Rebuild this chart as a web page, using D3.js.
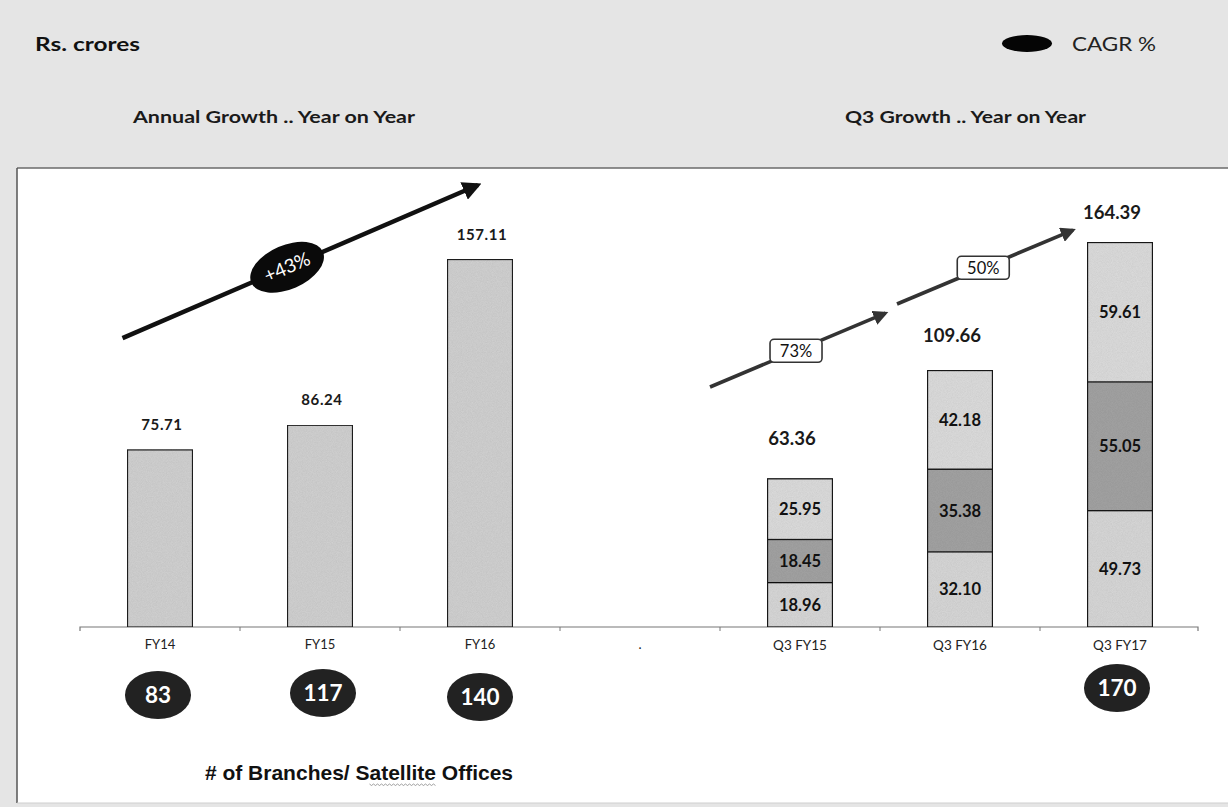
<!DOCTYPE html>
<html>
<head>
<meta charset="utf-8">
<script src="https://cdn.jsdelivr.net/npm/d3@7"></script>
<style>
  html, body { margin: 0; padding: 0; background: #e5e5e5; }
  svg { display: block; }
</style>
</head>
<body>
<svg id="chart" width="1228" height="807"></svg>
<script>
// ---------- DATA ----------
const categories = ["FY14", "FY15", "FY16", ".", "Q3 FY15", "Q3 FY16", "Q3 FY17"];
const annualCats = ["FY14", "FY15", "FY16"];
const annualValues = [75.71, 86.24, 157.11];
const quarterCats = ["Q3 FY15", "Q3 FY16", "Q3 FY17"];
const q3Bottom = [18.96, 32.10, 49.73];
const q3Middle = [18.45, 35.38, 55.05];
const q3Top = [25.95, 42.18, 59.61];
const q3Totals = [63.36, 109.66, 164.39];
const branchCats = ["FY14", "FY15", "FY16", "Q3 FY17"];
const branchCounts = [83, 117, 140, 170];
const annualCagr = "+43%";
const quarterGrowth = ["73%", "50%"];

// ---------- SETUP ----------
const svg = d3.select("#chart");
const W = 1228, H = 807;
const baseY = 627;

const x = d3.scaleBand().domain(categories).range([80, 1200]).paddingInner(0.594).paddingOuter(0.297);
const y = d3.scaleLinear().domain([0, 180]).range([baseY, 206]);
const bw = x.bandwidth();

const defs = svg.append("defs");
// grain filter for bars
const f = defs.append("filter").attr("id", "grain").attr("x", 0).attr("y", 0).attr("width", 1).attr("height", 1);
f.append("feTurbulence").attr("type", "fractalNoise").attr("baseFrequency", 1.2).attr("numOctaves", 1).attr("seed", 3).attr("result", "n");
f.append("feColorMatrix").attr("in", "n").attr("type", "matrix")
  .attr("values", "0 0 0 0 0  0 0 0 0 0  0 0 0 0 0  0 0 0 0.18 0").attr("result", "na");
f.append("feComposite").attr("in", "na").attr("in2", "SourceGraphic").attr("operator", "in").attr("result", "nc");
f.append("feMerge").call(m => { m.append("feMergeNode").attr("in", "SourceGraphic"); m.append("feMergeNode").attr("in", "nc"); });

function marker(id, color) {
  defs.append("marker").attr("id", id).attr("viewBox", "0 0 10 10").attr("refX", 8).attr("refY", 5)
    .attr("markerWidth", 4.2).attr("markerHeight", 4.2).attr("orient", "auto")
    .append("path").attr("d", "M0,0 L10,5 L0,10 Z").attr("fill", color);
}
marker("headBlack", "#111");
marker("headGray", "#333");

// ---------- BACKGROUND ----------
svg.append("rect").attr("x", 0).attr("y", 0).attr("width", W).attr("height", H).attr("fill", "#e5e5e5");
svg.append("rect").attr("x", 17).attr("y", 168).attr("width", W - 17).attr("height", 635).attr("fill", "#ffffff");
svg.append("line").attr("x1", 17).attr("x2", W).attr("y1", 168).attr("y2", 168).attr("stroke", "#6a6a6a").attr("stroke-width", 1.5);
svg.append("line").attr("x1", 17).attr("x2", 17).attr("y1", 168).attr("y2", 803).attr("stroke", "#555").attr("stroke-width", 1.5);
svg.append("line").attr("x1", 17).attr("x2", W).attr("y1", 803).attr("y2", 803).attr("stroke", "#cfcfcf").attr("stroke-width", 1);

// ---------- HEADER ----------
const headFont = "Lato, 'Open Sans', sans-serif";
svg.append("text").attr("x", 35).attr("y", 51).text("Rs. crores")
  .attr("font-family", headFont).attr("font-weight", 700).attr("font-size", 19).attr("fill", "#111")
  .attr("textLength", 105).attr("lengthAdjust", "spacingAndGlyphs");
svg.append("text").attr("x", 133).attr("y", 123).text("Annual Growth .. Year on Year")
  .attr("font-family", headFont).attr("font-weight", 700).attr("font-size", 17).attr("fill", "#1a1a1a")
  .attr("textLength", 282).attr("lengthAdjust", "spacingAndGlyphs");
svg.append("text").attr("x", 845).attr("y", 123).text("Q3 Growth .. Year on Year")
  .attr("font-family", headFont).attr("font-weight", 700).attr("font-size", 17).attr("fill", "#1a1a1a")
  .attr("textLength", 241).attr("lengthAdjust", "spacingAndGlyphs");
svg.append("ellipse").attr("cx", 1027).attr("cy", 43.5).attr("rx", 25).attr("ry", 8.5).attr("fill", "#050505");
svg.append("text").attr("x", 1072).attr("y", 51).text("CAGR %")
  .attr("font-family", headFont).attr("font-weight", 400).attr("font-size", 19).attr("fill", "#222")
  .attr("textLength", 84).attr("lengthAdjust", "spacingAndGlyphs");

// ---------- AXIS ----------
const axisG = svg.append("g").attr("transform", `translate(0,${baseY})`);
axisG.call(d3.axisBottom(x).tickSize(0).tickPadding(13));
axisG.select(".domain").attr("d", "M80,4V0H1198V4").attr("stroke", "#777").attr("stroke-width", 1.2).attr("fill", "none");
axisG.selectAll(".tick text")
  .attr("font-family", "Lato, 'Open Sans', sans-serif")
  .attr("font-size", d => d.startsWith("Q3") ? 13.5 : 13)
  .attr("fill", "#222");
// boundary ticks between categories
axisG.selectAll("line.bound").data(categories.slice(1)).enter().append("line").attr("class", "bound")
  .attr("x1", d => x(d) - (x.step() - bw) / 2).attr("x2", d => x(d) - (x.step() - bw) / 2)
  .attr("y1", 0).attr("y2", 4).attr("stroke", "#777").attr("stroke-width", 1);

// ---------- ANNUAL BARS ----------
const valFont = "Lato, 'Open Sans', sans-serif";
svg.append("g").selectAll("rect").data(annualCats).enter().append("rect")
  .attr("x", d => x(d)).attr("width", bw)
  .attr("y", (d, i) => y(annualValues[i])).attr("height", (d, i) => baseY - y(annualValues[i]))
  .attr("fill", "#d3d3d3").attr("stroke", "#222").attr("stroke-width", 1.2).attr("filter", "url(#grain)");
svg.append("g").selectAll("text").data(annualCats).enter().append("text")
  .attr("x", d => x(d) + bw / 2 + 2).attr("y", (d, i) => y(annualValues[i]) - 20)
  .attr("text-anchor", "middle").text((d, i) => annualValues[i].toFixed(2))
  .attr("font-family", valFont).attr("font-weight", 700).attr("font-size", 15).attr("letter-spacing", 0.6).attr("fill", "#1a1a1a");

// ---------- Q3 STACKED BARS ----------
const stackRows = quarterCats.map((c, i) => ({ cat: c, bottom: q3Bottom[i], middle: q3Middle[i], top: q3Top[i] }));
const keys = ["bottom", "middle", "top"];
const colors = { bottom: "#d9d9d9", middle: "#a4a4a4", top: "#dedede" };
const series = d3.stack().keys(keys)(stackRows);
const sg = svg.append("g").selectAll("g").data(series).enter().append("g");
sg.selectAll("rect").data(s => s.map(d => ({ key: s.key, d }))).enter().append("rect")
  .attr("x", o => x(o.d.data.cat)).attr("width", bw)
  .attr("y", o => y(o.d[1])).attr("height", o => y(o.d[0]) - y(o.d[1]))
  .attr("fill", o => colors[o.key]).attr("stroke", "#1a1a1a").attr("stroke-width", 1.3).attr("filter", "url(#grain)");
sg.selectAll("text").data(s => s.map(d => ({ key: s.key, d }))).enter().append("text")
  .attr("x", o => x(o.d.data.cat) + bw / 2)
  .attr("y", o => (y(o.d[0]) + y(o.d[1])) / 2 + 6)
  .attr("text-anchor", "middle").text(o => (o.d[1] - o.d[0]).toFixed(2))
  .attr("font-family", valFont).attr("font-weight", 700).attr("font-size", 16.5).attr("fill", "#111");
svg.append("g").selectAll("text").data(quarterCats).enter().append("text")
  .attr("x", d => x(d) + bw / 2 - 8).attr("y", (d, i) => y(q3Totals[i]) - 34 + i * 5)
  .attr("text-anchor", "middle").text((d, i) => q3Totals[i].toFixed(2))
  .attr("font-family", valFont).attr("font-weight", 700).attr("font-size", 18.5).attr("fill", "#1a1a1a");

// ---------- GROWTH ARROWS ----------
// left CAGR arrow (annual)
const la = { x1: x("FY14") - 5, y1: y(123.5), x2: x("FY16") + bw / 2 - 2, y2: y(189) };
svg.append("line").attr("x1", la.x1).attr("y1", la.y1).attr("x2", la.x2).attr("y2", la.y2)
  .attr("stroke", "#111").attr("stroke-width", 4.5).attr("marker-end", "url(#headBlack)");
const lang = Math.atan2(la.y2 - la.y1, la.x2 - la.x1) * 180 / Math.PI;
const lcx = la.x1 + (la.x2 - la.x1) * 0.463, lcy = la.y1 + (la.y2 - la.y1) * 0.463;
const lg = svg.append("g").attr("transform", `translate(${lcx},${lcy}) rotate(${lang})`);
lg.append("ellipse").attr("rx", 39).attr("ry", 22).attr("fill", "#0a0a0a");
lg.append("text").attr("y", 6.5).attr("text-anchor", "middle").text(annualCagr)
  .attr("font-family", headFont).attr("font-size", 19).attr("fill", "#fff");

// quarterly growth arrows
const qa = [
  { x1: x("Q3 FY15") - 57.5, y1: y(102.6), x2: x("Q3 FY16") - 42, y2: y(134.2) },
  { x1: x("Q3 FY16") - 30.5, y1: y(138.1), x2: x("Q3 FY17") - 14.5, y2: y(169.7) }
];
qa.forEach((a, i) => {
  svg.append("line").attr("x1", a.x1).attr("y1", a.y1).attr("x2", a.x2).attr("y2", a.y2)
    .attr("stroke", "#333").attr("stroke-width", 3.6).attr("marker-end", "url(#headGray)");
  const cx = a.x1 + (a.x2 - a.x1) * 0.49, cy = a.y1 + (a.y2 - a.y1) * 0.49;
  svg.append("rect").attr("x", cx - 26).attr("y", cy - 11.5).attr("width", 52).attr("height", 23).attr("rx", 4)
    .attr("fill", "#fff").attr("stroke", "#333").attr("stroke-width", 1.6);
  svg.append("text").attr("x", cx).attr("y", cy + 6).attr("text-anchor", "middle").text(quarterGrowth[i])
    .attr("font-family", valFont).attr("font-size", 16.5).attr("fill", "#111");
});

// ---------- BRANCH COUNTS ----------
const branchDx = [-2, 3, 0, -3];
const branchY = [695, 693, 697, 688];
const bg = svg.append("g").selectAll("g").data(branchCats).enter().append("g")
  .attr("transform", (d, i) => `translate(${x(d) + bw / 2 + branchDx[i]},${branchY[i]})`);
bg.append("ellipse").attr("rx", 33).attr("ry", 24).attr("fill", "#262626").attr("filter", "url(#grain)");
bg.append("text").attr("y", 8).attr("text-anchor", "middle").text((d, i) => branchCounts[i])
  .attr("font-family", valFont).attr("font-weight", 700).attr("font-size", 22.5).attr("fill", "#fff");

const titleStr = "# of Branches/ Satellite Offices";
const title = svg.append("text").attr("x", 359).attr("y", 780).attr("text-anchor", "middle")
  .text(titleStr)
  .attr("font-family", "'Liberation Sans', Arial, sans-serif").attr("font-weight", 700).attr("font-size", 21).attr("fill", "#111");
// spell-check squiggle under "atellite"
const node = title.node();
const i0 = titleStr.indexOf("atellite");
const sx0 = node.getStartPositionOfChar(i0).x;
const sx1 = node.getEndPositionOfChar(i0 + 7).x;
const sq = d3.range(sx0, sx1, 2).map((v, k) => [v, 784 + (k % 2 ? 1.5 : 0)]);
svg.append("path").attr("d", d3.line()(sq)).attr("fill", "none").attr("stroke", "#888").attr("stroke-width", 0.8);
</script>
</body>
</html>
